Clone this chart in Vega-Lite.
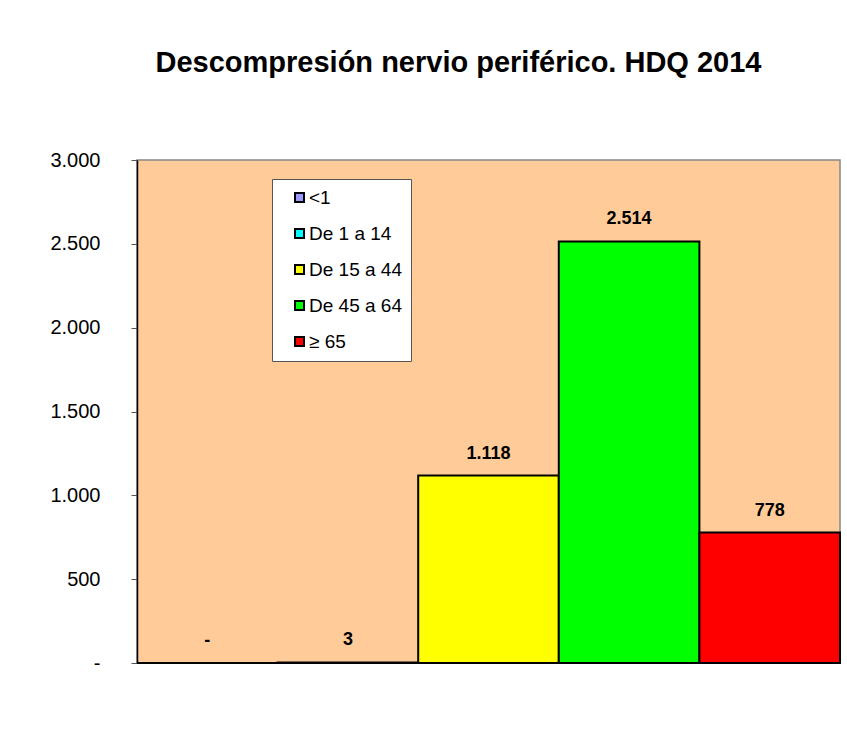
{
  "$schema": "https://vega.github.io/schema/vega-lite/v6.json",
  "width": 703,
  "height": 503,
  "autosize": {"type": "none"},
  "padding": {"left": 137, "top": 160, "right": 7, "bottom": 90},
  "background": "white",
  "config": {
    "font": "Liberation Sans",
    "locale": {"number": {"decimal": ",", "thousands": ".", "grouping": [3], "currency": ["", " €"]}},
    "view": {"fill": "#FFCC99", "stroke": "#888888", "strokeWidth": 1.5}
  },
  "title": {
    "text": "Descompresión nervio periférico. HDQ 2014",
    "fontSize": 29,
    "fontWeight": "bold",
    "color": "black",
    "anchor": "middle",
    "dx": -30,
    "offset": 72
  },
  "data": {
    "values": [
      {"grupo": "<1", "casos": 0},
      {"grupo": "De 1 a 14", "casos": 3},
      {"grupo": "De 15 a 44", "casos": 1118},
      {"grupo": "De 45 a 64", "casos": 2514},
      {"grupo": "≥ 65", "casos": 778}
    ]
  },
  "encoding": {
    "x": {
      "field": "grupo",
      "type": "nominal",
      "sort": null,
      "axis": null,
      "scale": {"paddingInner": 0, "paddingOuter": 0}
    }
  },
  "layer": [
    {
      "mark": {"type": "bar", "stroke": "black", "strokeWidth": 2},
      "encoding": {
        "y": {
          "field": "casos",
          "type": "quantitative",
          "scale": {"domain": [0, 3000]},
          "axis": {
            "title": null,
            "values": [0, 500, 1000, 1500, 2000, 2500, 3000],
            "format": ",.0f",
            "labelExpr": "datum.value == 0 ? '-' : datum.label",
            "labelFontSize": 20,
            "labelColor": "black",
            "labelPadding": 31,
            "tickSize": 6,
            "tickColor": "#555555",
            "domainColor": "black",
            "domainWidth": 1.5,
            "grid": false
          }
        },
        "color": {
          "field": "grupo",
          "type": "nominal",
          "sort": null,
          "scale": {
            "domain": ["<1", "De 1 a 14", "De 15 a 44", "De 45 a 64", "≥ 65"],
            "range": ["#9999FF", "#00FFFF", "#FFFF00", "#00FF00", "#FF0000"]
          },
          "legend": {
            "title": null,
            "orient": "none",
            "legendX": 135,
            "legendY": 19,
            "fillColor": "white",
            "strokeColor": "#555555",
            "padding": 9,
            "rowPadding": 16,
            "labelFontSize": 19,
            "labelColor": "black",
            "labelExpr": "datum.label + '\u00a0\u00a0\u00a0\u00a0\u00a0\u00a0'",
            "symbolType": "square",
            "symbolSize": 81,
            "symbolStrokeColor": "black",
            "symbolStrokeWidth": 2,
            "symbolOpacity": 1,
            "symbolOffset": 9,
            "labelOffset": 0
          }
        }
      }
    },
    {
      "mark": {"type": "text", "fontWeight": "bold", "fontSize": 18, "baseline": "bottom", "dy": -13, "color": "black"},
      "encoding": {
        "y": {"field": "casos", "type": "quantitative"},
        "text": {
          "condition": {"test": "datum.casos == 0", "value": "-"},
          "field": "casos",
          "type": "quantitative",
          "format": ",.0f"
        }
      }
    }
  ]
}
